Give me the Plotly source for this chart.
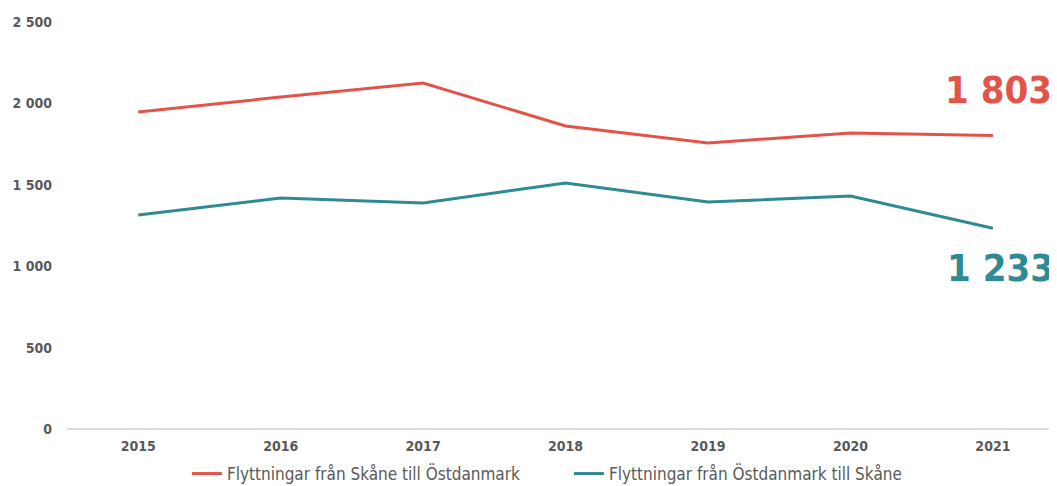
import plotly.graph_objs as go

years = ['2015', '2016', '2017', '2018', '2019', '2020', '2021']
skane_to_ost = [1947, 2039, 2125, 1861, 1757, 1818, 1803]
ost_to_skane = [1314, 1419, 1388, 1511, 1394, 1431, 1233]
names = ['Flyttningar från Skåne till Östdanmark', 'Flyttningar från Östdanmark till Skåne']
ytick_vals = [0, 500, 1000, 1500, 2000, 2500]

red = '#E2534A'
teal = '#2F8A93'
grey = '#595959'
font = 'DejaVu Sans Condensed, Roboto, sans-serif'

fig = go.Figure()
fig.add_trace(go.Scatter(x=years, y=skane_to_ost, name=names[0], mode='lines',
                         line=dict(color=red, width=3)))
fig.add_trace(go.Scatter(x=years, y=ost_to_skane, name=names[1], mode='lines',
                         line=dict(color=teal, width=3)))

last = len(years) - 1
fig.add_annotation(x=last, y=skane_to_ost[-1], text='<b>1 803</b>', showarrow=False,
                   xanchor='center', yanchor='middle', xshift=6, yshift=45,
                   font=dict(size=38, color=red, family=font))
fig.add_annotation(x=last, y=ost_to_skane[-1], text='<b>1 233</b>', showarrow=False,
                   xanchor='center', yanchor='middle', xshift=8, yshift=-40,
                   font=dict(size=38, color=teal, family=font))

fig.update_layout(
    width=1049, height=478,
    margin=dict(l=59, r=0, t=14, b=57),
    plot_bgcolor='white', paper_bgcolor='white',
    separators=', ',
    font=dict(family=font, size=14, color=grey),
    showlegend=True,
    legend=dict(orientation='h', x=0.507, xanchor='center', yref='container',
                y=12 / 478, yanchor='middle', entrywidth=337,
                font=dict(size=17, color=grey), itemwidth=30),
    xaxis=dict(type='category', range=[-0.5, 6.45], showgrid=False,
               showline=False, ticks='', ticklabelstandoff=7,
               tickfont=dict(size=14, color=grey, weight='bold')),
    yaxis=dict(range=[0, 2500], tickvals=ytick_vals, tickformat=',', showgrid=False,
               zeroline=True, zerolinecolor='#D9D9D9', zerolinewidth=1.5,
               ticks='', ticklabelstandoff=14,
               tickfont=dict(size=14, color=grey, weight='bold')),
)

fig.write_html('out.html')
